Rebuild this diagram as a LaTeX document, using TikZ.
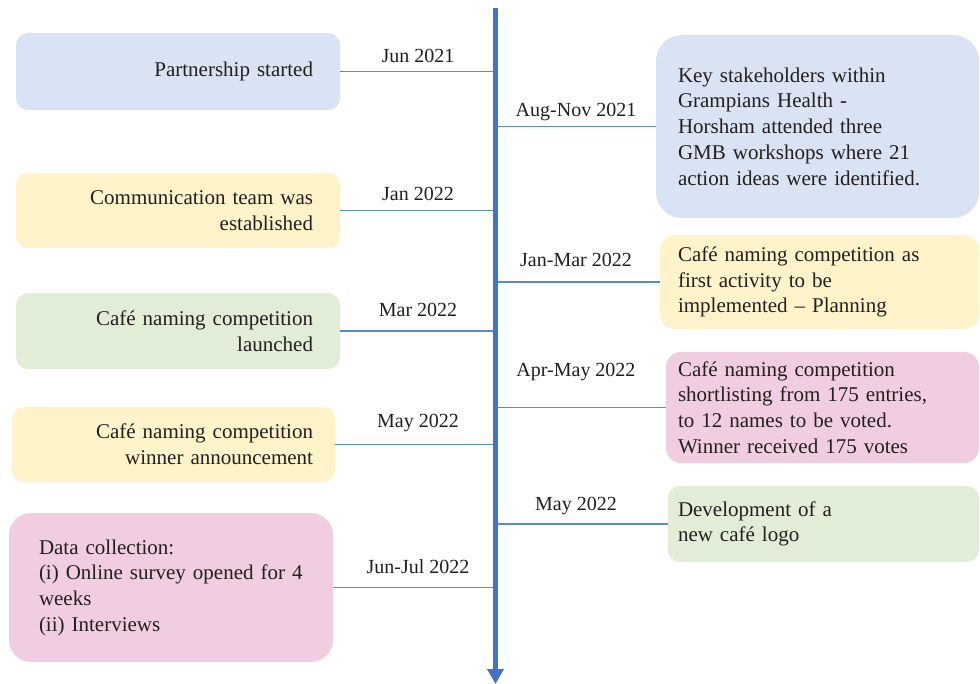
\documentclass[tikz,border=0pt]{standalone}
\usepackage{fontspec}
\setmainfont{Liberation Serif}
\usetikzlibrary{arrows.meta}
\definecolor{bxblue}{HTML}{DAE3F3}
\definecolor{bxyellow}{HTML}{FFF3C9}
\definecolor{bxgreen}{HTML}{E2EDD7}
\definecolor{bxpink}{HTML}{F0CDE1}
\definecolor{spinec}{HTML}{4472C4}
\definecolor{connc}{HTML}{5A8BD0}
\definecolor{txtc}{HTML}{231F20}
\begin{document}
\begin{tikzpicture}[x=1pt,y=-1pt,
  evbox/.style={draw=none, text=txtc, inner sep=0pt,
    font=\fontsize{21}{25.7}\selectfont},
  datelbl/.style={text=txtc, inner sep=0pt, anchor=base,
    font=\fontsize{20}{24}\selectfont},
  conn/.style={draw=connc, line width=1.4pt},
  spine/.style={draw=spinec, line width=5pt,
    -{Triangle[width=16pt,length=15pt]}, color=spinec}
]
\useasboundingbox (0,0) rectangle (980,684);

% left boxes
\node[evbox, fill=bxblue, rounded corners=12pt, minimum width=324pt, minimum height=77pt,
  text width=270pt, align=right] (l1) at (178,71.5) {Partnership started};
\node[evbox, fill=bxyellow, rounded corners=12pt, minimum width=324pt, minimum height=75pt,
  text width=270pt, align=right] (l2) at (178,210.5) {Communication team was\\established};
\node[evbox, fill=bxgreen, rounded corners=12pt, minimum width=324pt, minimum height=76pt,
  text width=270pt, align=right] (l3) at (178,331) {Café naming competition\\launched};
\node[evbox, fill=bxyellow, rounded corners=12pt, minimum width=323pt, minimum height=75pt,
  text width=279pt, align=right] (l4) at (173.5,444.5) {Café naming competition\\winner announcement};
\node[evbox, fill=bxpink, rounded corners=22pt, minimum width=324pt, minimum height=149pt,
  text width=264pt, align=left] (l5) at (171,587.5) {Data collection:\\(i) Online survey opened for 4\\weeks\\(ii) Interviews};

% right boxes
\node[evbox, fill=bxblue, rounded corners=26pt, minimum width=323pt, minimum height=183pt,
  text width=279pt, align=left] (r1) at (817.5,126.5) {Key stakeholders within\\Grampians Health -\\Horsham attended three\\GMB workshops where 21\\action ideas were identified.};
\node[evbox, fill=bxyellow, rounded corners=15pt, minimum width=319pt, minimum height=94pt,
  text width=283pt, align=left] (r2) at (819.5,282) {Café naming competition as\\first activity to be\\implemented – Planning};
\node[evbox, fill=bxpink, rounded corners=15pt, minimum width=313pt, minimum height=111pt,
  text width=289pt, align=left] (r3) at (822.5,407.5) {Café naming competition\\shortlisting from 175 entries,\\to 12 names to be voted.\\Winner received 175 votes};
\node[evbox, fill=bxgreen, rounded corners=12pt, minimum width=311pt, minimum height=76pt,
  text width=291pt, align=left] (r4) at (823.5,524) {Development of a\\new café logo};

% spine ends
\coordinate (stop) at (495.5,8);
\coordinate (sbot) at (495.5,684);

% connectors
\foreach \n in {l1,l2,l3,l4,l5} {\draw[conn] (\n.east) -- (\n.east -| stop);}
\foreach \n in {r1,r2,r3,r4} {\draw[conn] (\n.west) -- (\n.west -| stop);}

% spine
\draw[spine] (stop) -- (sbot);

% dates
\node[datelbl] (d1) at (418,63) {Jun 2021};
\node[datelbl] (d2) at (418,201) {Jan 2022};
\node[datelbl] (d3) at (418,317) {Mar 2022};
\node[datelbl] (d4) at (418,428) {May 2022};
\node[datelbl] (d5) at (418,573) {Jun-Jul 2022};
\node[datelbl] (e1) at (576,117) {Aug-Nov 2021};
\node[datelbl] (e2) at (576,267) {Jan-Mar 2022};
\node[datelbl] (e3) at (576,377) {Apr-May 2022};
\node[datelbl] (e4) at (576,510) {May 2022};
\end{tikzpicture}
\end{document}
